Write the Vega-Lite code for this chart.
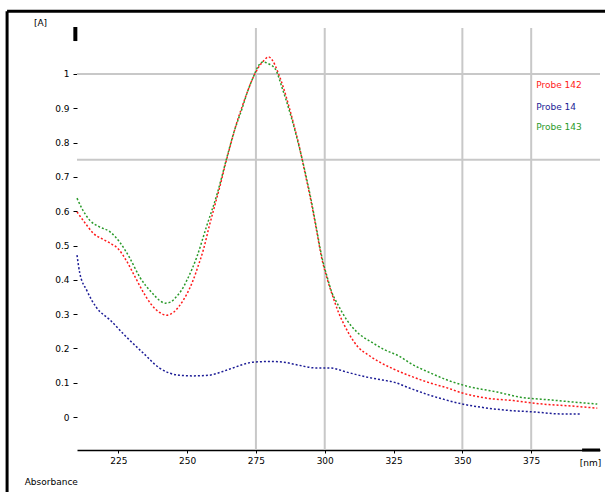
{
  "$schema": "https://vega.github.io/schema/vega-lite/v6.json",
  "width": 523,
  "height": 422,
  "autosize": {"type": "none"},
  "padding": {"left": 77, "top": 28, "right": 5, "bottom": 42},
  "background": "white",
  "config": {"view": {"stroke": null}, "font": "DejaVu Sans"},
  "datasets": {
    "spectra": [
      {"series": "Probe 142", "nm": 210, "A": 0.598},
      {"series": "Probe 142", "nm": 213, "A": 0.565},
      {"series": "Probe 142", "nm": 216, "A": 0.535},
      {"series": "Probe 142", "nm": 219, "A": 0.52},
      {"series": "Probe 142", "nm": 222, "A": 0.507},
      {"series": "Probe 142", "nm": 225, "A": 0.49},
      {"series": "Probe 142", "nm": 228, "A": 0.455},
      {"series": "Probe 142", "nm": 231, "A": 0.41},
      {"series": "Probe 142", "nm": 234, "A": 0.365},
      {"series": "Probe 142", "nm": 237, "A": 0.328},
      {"series": "Probe 142", "nm": 240, "A": 0.305},
      {"series": "Probe 142", "nm": 242.6, "A": 0.297},
      {"series": "Probe 142", "nm": 245, "A": 0.305},
      {"series": "Probe 142", "nm": 247, "A": 0.322},
      {"series": "Probe 142", "nm": 250, "A": 0.36},
      {"series": "Probe 142", "nm": 252, "A": 0.395},
      {"series": "Probe 142", "nm": 254, "A": 0.44},
      {"series": "Probe 142", "nm": 256, "A": 0.49},
      {"series": "Probe 142", "nm": 258, "A": 0.555},
      {"series": "Probe 142", "nm": 260, "A": 0.615},
      {"series": "Probe 142", "nm": 262, "A": 0.675},
      {"series": "Probe 142", "nm": 264, "A": 0.74},
      {"series": "Probe 142", "nm": 266, "A": 0.8},
      {"series": "Probe 142", "nm": 268, "A": 0.857},
      {"series": "Probe 142", "nm": 270, "A": 0.905},
      {"series": "Probe 142", "nm": 272, "A": 0.95},
      {"series": "Probe 142", "nm": 274, "A": 0.99},
      {"series": "Probe 142", "nm": 276, "A": 1.02},
      {"series": "Probe 142", "nm": 278, "A": 1.04},
      {"series": "Probe 142", "nm": 279.5, "A": 1.05},
      {"series": "Probe 142", "nm": 281, "A": 1.04},
      {"series": "Probe 142", "nm": 283, "A": 1.005},
      {"series": "Probe 142", "nm": 285, "A": 0.96},
      {"series": "Probe 142", "nm": 287, "A": 0.905},
      {"series": "Probe 142", "nm": 289, "A": 0.845},
      {"series": "Probe 142", "nm": 291, "A": 0.78},
      {"series": "Probe 142", "nm": 293, "A": 0.705},
      {"series": "Probe 142", "nm": 295, "A": 0.63},
      {"series": "Probe 142", "nm": 297, "A": 0.545},
      {"series": "Probe 142", "nm": 299, "A": 0.46},
      {"series": "Probe 142", "nm": 301, "A": 0.4},
      {"series": "Probe 142", "nm": 303, "A": 0.35},
      {"series": "Probe 142", "nm": 305, "A": 0.305},
      {"series": "Probe 142", "nm": 307, "A": 0.27},
      {"series": "Probe 142", "nm": 309, "A": 0.24},
      {"series": "Probe 142", "nm": 312, "A": 0.205},
      {"series": "Probe 142", "nm": 316, "A": 0.18},
      {"series": "Probe 142", "nm": 320, "A": 0.16},
      {"series": "Probe 142", "nm": 325, "A": 0.14},
      {"series": "Probe 142", "nm": 332, "A": 0.117},
      {"series": "Probe 142", "nm": 338, "A": 0.1},
      {"series": "Probe 142", "nm": 344.5, "A": 0.085},
      {"series": "Probe 142", "nm": 350, "A": 0.07},
      {"series": "Probe 142", "nm": 359, "A": 0.055},
      {"series": "Probe 142", "nm": 368.5, "A": 0.048},
      {"series": "Probe 142", "nm": 379, "A": 0.038},
      {"series": "Probe 142", "nm": 390, "A": 0.032},
      {"series": "Probe 142", "nm": 399, "A": 0.026},
      {"series": "Probe 14", "nm": 210, "A": 0.472},
      {"series": "Probe 14", "nm": 211, "A": 0.42},
      {"series": "Probe 14", "nm": 213.5, "A": 0.37},
      {"series": "Probe 14", "nm": 217, "A": 0.32},
      {"series": "Probe 14", "nm": 222, "A": 0.283},
      {"series": "Probe 14", "nm": 228, "A": 0.233},
      {"series": "Probe 14", "nm": 234, "A": 0.187},
      {"series": "Probe 14", "nm": 240, "A": 0.143},
      {"series": "Probe 14", "nm": 247, "A": 0.122},
      {"series": "Probe 14", "nm": 252, "A": 0.12},
      {"series": "Probe 14", "nm": 258, "A": 0.122},
      {"series": "Probe 14", "nm": 263, "A": 0.133},
      {"series": "Probe 14", "nm": 266.6, "A": 0.143},
      {"series": "Probe 14", "nm": 271, "A": 0.155},
      {"series": "Probe 14", "nm": 274, "A": 0.16},
      {"series": "Probe 14", "nm": 280, "A": 0.162},
      {"series": "Probe 14", "nm": 285, "A": 0.16},
      {"series": "Probe 14", "nm": 290, "A": 0.152},
      {"series": "Probe 14", "nm": 297, "A": 0.143},
      {"series": "Probe 14", "nm": 302, "A": 0.143},
      {"series": "Probe 14", "nm": 308, "A": 0.131},
      {"series": "Probe 14", "nm": 315, "A": 0.117},
      {"series": "Probe 14", "nm": 321, "A": 0.108},
      {"series": "Probe 14", "nm": 325, "A": 0.102},
      {"series": "Probe 14", "nm": 330, "A": 0.087},
      {"series": "Probe 14", "nm": 338, "A": 0.064},
      {"series": "Probe 14", "nm": 344, "A": 0.05},
      {"series": "Probe 14", "nm": 350, "A": 0.038},
      {"series": "Probe 14", "nm": 356.5, "A": 0.029},
      {"series": "Probe 14", "nm": 366, "A": 0.02},
      {"series": "Probe 14", "nm": 375.7, "A": 0.015},
      {"series": "Probe 14", "nm": 386.6, "A": 0.009},
      {"series": "Probe 14", "nm": 393, "A": 0.009},
      {"series": "Probe 143", "nm": 210, "A": 0.638},
      {"series": "Probe 143", "nm": 212, "A": 0.605},
      {"series": "Probe 143", "nm": 214.6, "A": 0.574},
      {"series": "Probe 143", "nm": 218, "A": 0.555},
      {"series": "Probe 143", "nm": 222, "A": 0.54},
      {"series": "Probe 143", "nm": 225.5, "A": 0.51},
      {"series": "Probe 143", "nm": 229, "A": 0.466},
      {"series": "Probe 143", "nm": 232.8, "A": 0.408},
      {"series": "Probe 143", "nm": 237.5, "A": 0.36},
      {"series": "Probe 143", "nm": 240, "A": 0.34},
      {"series": "Probe 143", "nm": 242, "A": 0.332},
      {"series": "Probe 143", "nm": 244, "A": 0.335},
      {"series": "Probe 143", "nm": 246, "A": 0.35},
      {"series": "Probe 143", "nm": 248, "A": 0.37},
      {"series": "Probe 143", "nm": 250, "A": 0.4},
      {"series": "Probe 143", "nm": 253.5, "A": 0.466},
      {"series": "Probe 143", "nm": 257, "A": 0.554},
      {"series": "Probe 143", "nm": 261, "A": 0.653},
      {"series": "Probe 143", "nm": 264.5, "A": 0.758},
      {"series": "Probe 143", "nm": 267, "A": 0.83},
      {"series": "Probe 143", "nm": 270, "A": 0.9},
      {"series": "Probe 143", "nm": 272, "A": 0.95},
      {"series": "Probe 143", "nm": 274, "A": 0.99},
      {"series": "Probe 143", "nm": 276, "A": 1.025},
      {"series": "Probe 143", "nm": 277.5, "A": 1.035},
      {"series": "Probe 143", "nm": 279.5, "A": 1.03},
      {"series": "Probe 143", "nm": 282, "A": 1.015},
      {"series": "Probe 143", "nm": 284.5, "A": 0.96},
      {"series": "Probe 143", "nm": 287.4, "A": 0.886},
      {"series": "Probe 143", "nm": 291, "A": 0.778},
      {"series": "Probe 143", "nm": 293, "A": 0.71},
      {"series": "Probe 143", "nm": 295, "A": 0.635},
      {"series": "Probe 143", "nm": 297, "A": 0.55},
      {"series": "Probe 143", "nm": 299, "A": 0.465},
      {"series": "Probe 143", "nm": 301, "A": 0.405},
      {"series": "Probe 143", "nm": 302.5, "A": 0.365},
      {"series": "Probe 143", "nm": 304.5, "A": 0.332},
      {"series": "Probe 143", "nm": 308, "A": 0.283},
      {"series": "Probe 143", "nm": 311.7, "A": 0.248},
      {"series": "Probe 143", "nm": 317.5, "A": 0.216},
      {"series": "Probe 143", "nm": 322, "A": 0.195},
      {"series": "Probe 143", "nm": 327, "A": 0.178},
      {"series": "Probe 143", "nm": 331, "A": 0.157},
      {"series": "Probe 143", "nm": 338, "A": 0.13},
      {"series": "Probe 143", "nm": 344.5, "A": 0.108},
      {"series": "Probe 143", "nm": 351.7, "A": 0.09},
      {"series": "Probe 143", "nm": 362.6, "A": 0.073},
      {"series": "Probe 143", "nm": 371, "A": 0.058},
      {"series": "Probe 143", "nm": 382, "A": 0.05},
      {"series": "Probe 143", "nm": 390, "A": 0.044},
      {"series": "Probe 143", "nm": 399, "A": 0.038}
    ]
  },
  "layer": [
    {
      "data": {"values": [{"nm": 275}, {"nm": 300}, {"nm": 350}, {"nm": 375}]},
      "mark": {"type": "rule", "color": "#c8c8c8", "strokeWidth": 2},
      "encoding": {
        "x": {"field": "nm", "type": "quantitative", "title": "[nm]", "scale": {"domain": [210, 400], "nice": false, "zero": false}}
      }
    },
    {
      "data": {"values": [{"A": 1}, {"A": 0.75}]},
      "mark": {"type": "rule", "color": "#c8c8c8", "strokeWidth": 2},
      "encoding": {
        "y": {"field": "A", "type": "quantitative", "title": "[A]", "scale": {"domain": [-0.096, 1.134], "nice": false, "zero": false}}
      }
    },
    {
      "data": {"name": "spectra"},
      "mark": {"type": "line", "strokeWidth": 1.5, "strokeDash": [2, 2], "interpolate": "monotone"},
      "encoding": {
        "x": {
          "field": "nm", "type": "quantitative", "title": "[nm]",
          "scale": {"domain": [210, 400], "nice": false, "zero": false},
          "axis": {
            "values": [225, 250, 275, 300, 325, 350, 375],
            "grid": false, "domainColor": "black", "domainWidth": 1.5,
            "tickColor": "black", "tickSize": 3, "labelFontSize": 9, "labelColor": "black",
            "labelPadding": 3, "titleFontSize": 9, "titleFontWeight": "normal", "titleColor": "black",
            "titleX": 513, "titleY": 12, "titleAlign": "center", "titleBaseline": "middle"
          }
        },
        "y": {
          "field": "A", "type": "quantitative", "title": "[A]",
          "scale": {"domain": [-0.096, 1.134], "nice": false, "zero": false},
          "axis": {
            "values": [0, 0.1, 0.2, 0.3, 0.4, 0.5, 0.6, 0.7, 0.8, 0.9, 1],
            "format": ".1~f", "grid": false, "domain": false,
            "tickColor": "black", "tickSize": 4, "labelPadding": 4, "labelFontSize": 9, "labelColor": "black",
            "titleAngle": 0, "titleFontSize": 9, "titleFontWeight": "normal", "titleColor": "black",
            "titleX": -37, "titleY": -6, "titleAlign": "center", "titleBaseline": "middle"
          }
        },
        "color": {
          "field": "series", "type": "nominal", "legend": null,
          "scale": {"domain": ["Probe 142", "Probe 14", "Probe 143"], "range": ["#ff1a1a", "#1c1c96", "#2a9a2a"]}
        }
      }
    },
    {
      "data": {"values": [{}]},
      "mark": {"type": "rule", "color": "black", "strokeWidth": 3},
      "encoding": {"x": {"datum": 184.6}, "y": {"datum": -0.23}, "y2": {"datum": 1.183}}
    },
    {
      "data": {"values": [{}]},
      "mark": {"type": "rule", "color": "black", "strokeWidth": 3},
      "encoding": {"y": {"datum": 1.183}, "x": {"datum": 184.6}, "x2": {"datum": 402}}
    },
    {
      "data": {"values": [{}]},
      "mark": {"type": "rule", "color": "black", "strokeWidth": 4},
      "encoding": {"x": {"datum": 209.4}, "y": {"datum": 1.096}, "y2": {"datum": 1.137}}
    },
    {
      "data": {"values": [{}]},
      "mark": {"type": "rule", "color": "black", "strokeWidth": 3},
      "encoding": {"y": {"datum": -0.096}, "x": {"datum": 393.5}, "x2": {"datum": 400}}
    },
    {
      "data": {"values": [{}]},
      "mark": {"type": "text", "align": "left", "baseline": "middle", "fontSize": 9, "color": "#ff1a1a"},
      "encoding": {"x": {"datum": 376.8}, "y": {"datum": 0.968}, "text": {"value": "Probe 142"}}
    },
    {
      "data": {"values": [{}]},
      "mark": {"type": "text", "align": "left", "baseline": "middle", "fontSize": 9, "color": "#1c1c96"},
      "encoding": {"x": {"datum": 376.8}, "y": {"datum": 0.904}, "text": {"value": "Probe 14"}}
    },
    {
      "data": {"values": [{}]},
      "mark": {"type": "text", "align": "left", "baseline": "middle", "fontSize": 9, "color": "#2a9a2a"},
      "encoding": {"x": {"datum": 376.8}, "y": {"datum": 0.845}, "text": {"value": "Probe 143"}}
    },
    {
      "data": {"values": [{}]},
      "mark": {"type": "text", "align": "left", "baseline": "middle", "fontSize": 9, "color": "black"},
      "encoding": {"x": {"datum": 191}, "y": {"datum": -0.19}, "text": {"value": "Absorbance"}}
    }
  ]
}
